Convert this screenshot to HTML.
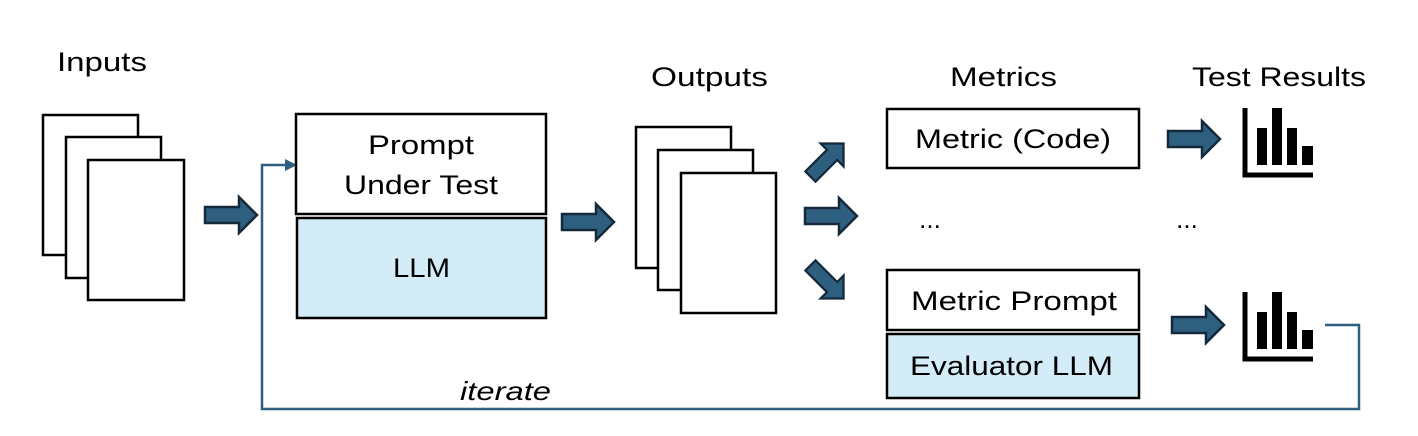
<!DOCTYPE html>
<html><head><meta charset="utf-8"><style>
html,body{margin:0;padding:0;background:#fff}
svg{display:block}
text{font-family:"Liberation Sans","DejaVu Sans",sans-serif;fill:#000}
</style></head><body>
<svg width="1418" height="436" viewBox="0 0 1418 436">
<defs>
<polygon id="arr" points="-26,-8 8,-8 8,-18 26,0 8,18 8,8 -26,8" fill="#2e5f7f" stroke="#14293a" stroke-width="2.5" stroke-linejoin="miter"/>
<g id="chart">
<path d="M2,0 V67 H70" fill="none" stroke="#000" stroke-width="5"/>
<rect x="14" y="20" width="10" height="37" fill="#000"/>
<rect x="29" y="0" width="10" height="57" fill="#000"/>
<rect x="44" y="20" width="10" height="37" fill="#000"/>
<rect x="59" y="38" width="11" height="19" fill="#000"/>
</g>
</defs>

<text x="57" y="71" font-size="27" textLength="90" lengthAdjust="spacingAndGlyphs">Inputs</text>
<g fill="#fff" stroke="#000" stroke-width="2.5">
<rect x="43" y="115" width="95" height="140"/>
<rect x="66" y="137" width="95" height="141"/>
<rect x="88" y="160" width="96" height="140"/>
</g>
<use href="#arr" transform="translate(231,215)"/>

<polyline points="1325,325 1359,325 1359,409 262,409 262,165 290,165" fill="none" stroke="#2e5f7f" stroke-width="2.5"/>
<polygon points="297,165 285,159 285,171" fill="#2e5f7f"/>
<text x="460" y="400" font-size="26" font-style="italic" textLength="91" lengthAdjust="spacingAndGlyphs">iterate</text>

<rect x="296" y="114" width="250" height="100" fill="#fff" stroke="#000" stroke-width="2.5"/>
<text x="368" y="154" font-size="27" textLength="106" lengthAdjust="spacingAndGlyphs">Prompt</text>
<text x="344" y="194" font-size="27" textLength="154" lengthAdjust="spacingAndGlyphs">Under Test</text>
<rect x="297" y="218" width="249" height="100" fill="#d4ecf7" stroke="#000" stroke-width="2.5"/>
<text x="393" y="277" font-size="27" textLength="57" lengthAdjust="spacingAndGlyphs">LLM</text>

<use href="#arr" transform="translate(588,222)"/>

<text x="651" y="86" font-size="27" textLength="117" lengthAdjust="spacingAndGlyphs">Outputs</text>
<g fill="#fff" stroke="#000" stroke-width="2.5">
<rect x="636" y="127" width="95" height="141"/>
<rect x="658" y="150" width="95" height="140"/>
<rect x="681" y="173" width="95" height="140"/>
</g>

<use href="#arr" transform="translate(827,160) rotate(-45) scale(0.9)"/>
<use href="#arr" transform="translate(831,216)"/>
<use href="#arr" transform="translate(827,282) rotate(45) scale(0.9)"/>

<text x="950" y="86" font-size="27" textLength="107" lengthAdjust="spacingAndGlyphs">Metrics</text>
<rect x="887" y="109" width="252" height="59" fill="#fff" stroke="#000" stroke-width="2.5"/>
<text x="915" y="148" font-size="27" textLength="196" lengthAdjust="spacingAndGlyphs">Metric (Code)</text>
<text x="930" y="228" font-size="26" text-anchor="middle">...</text>
<rect x="887" y="270" width="252" height="60" fill="#fff" stroke="#000" stroke-width="2.5"/>
<text x="911" y="310" font-size="27" textLength="206" lengthAdjust="spacingAndGlyphs">Metric Prompt</text>
<rect x="887" y="334" width="252" height="64" fill="#d4ecf7" stroke="#000" stroke-width="2.5"/>
<text x="910" y="375" font-size="27" textLength="203" lengthAdjust="spacingAndGlyphs">Evaluator LLM</text>

<text x="1192" y="86" font-size="27" textLength="174" lengthAdjust="spacingAndGlyphs">Test Results</text>
<use href="#arr" transform="translate(1194,139)"/>
<use href="#arr" transform="translate(1198,325)"/>
<use href="#chart" transform="translate(1243,108)"/>
<use href="#chart" transform="translate(1243,292)"/>
<text x="1187" y="228" font-size="26" text-anchor="middle">...</text>
</svg>
</body></html>
